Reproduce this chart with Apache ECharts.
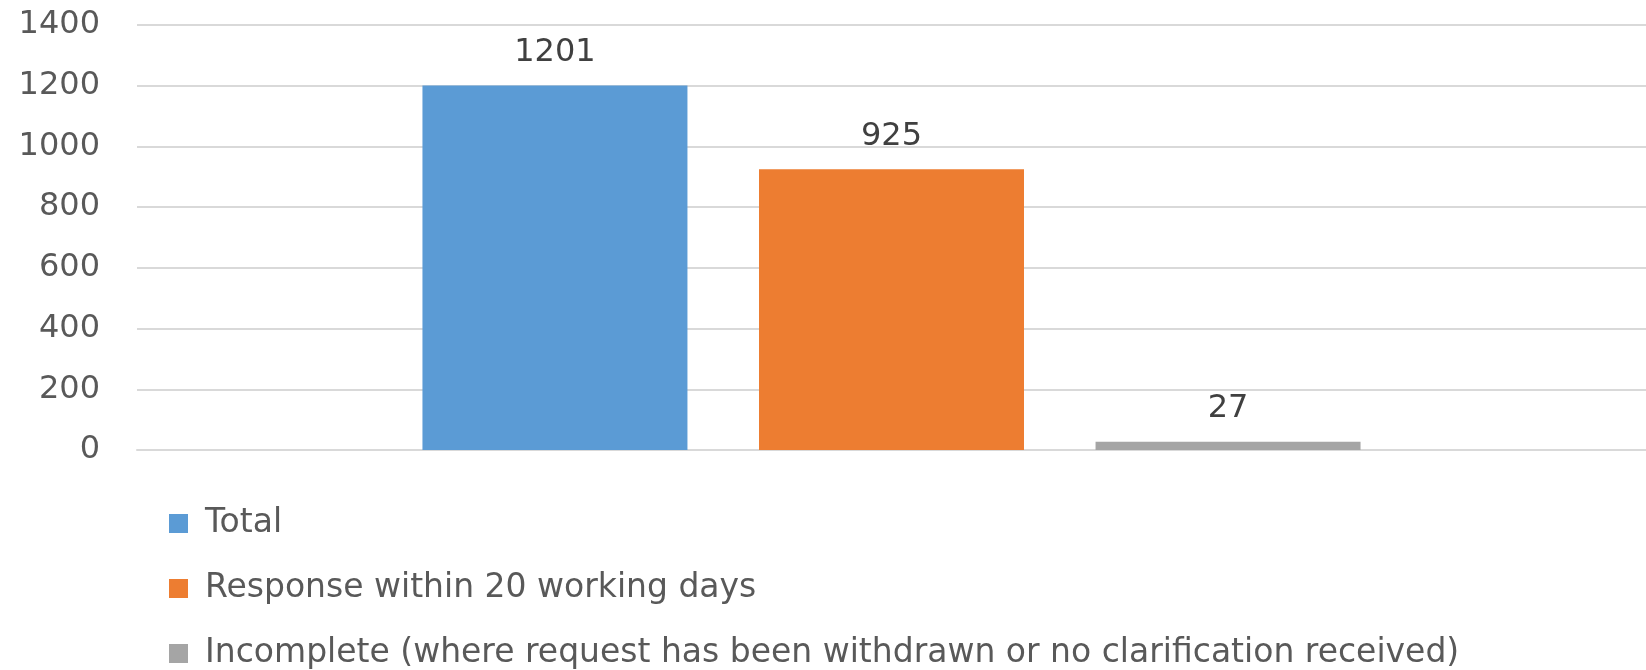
<!DOCTYPE html>
<html>
<head>
<meta charset="utf-8">
<title>Requests</title>
<script src="https://cdn.jsdelivr.net/npm/echarts@6/dist/echarts.min.js"></script>
<style>
  html, body { margin: 0; padding: 0; background: #ffffff; }
  #chart { width: 1646px; height: 670px; }
</style>
</head>
<body>
<div id="chart"></div>
<script>
// data
const categories = [""]
const seriesNames = [
  "Total",
  "Response within 20 working days",
  "Incomplete (where request has been withdrawn or no clarification received)"
]
const totalValues = [1201]
const responseValues = [925]
const incompleteValues = [27]
const yTicks = [0, 200, 400, 600, 800, 1000, 1200, 1400]

const colors = ["#5B9BD5", "#ED7D31", "#A5A5A5"]
const seriesValues = [totalValues, responseValues, incompleteValues]

const chart = echarts.init(document.getElementById("chart"))

chart.setOption({
  animation: false,
  color: colors,
  textStyle: { fontFamily: "DejaVu Sans" },
  grid: {
    left: 137,
    right: 0,
    top: 25,
    bottom: 220
  },
  legend: {
    orient: "vertical",
    left: 169,
    top: 507,
    height: 230,
    padding: 0,
    icon: "rect",
    itemWidth: 19,
    itemHeight: 19,
    itemGap: 32,
    data: seriesNames,
    textStyle: {
      fontSize: 33,
      color: "#595959",
      fontFamily: "DejaVu Sans",
      padding: [0, 0, 0, 12]
    }
  },
  xAxis: {
    type: "category",
    data: categories,
    axisTick: { show: false },
    axisLabel: { show: false },
    axisLine: { lineStyle: { color: "#d9d9d9", width: 2 } }
  },
  yAxis: {
    type: "value",
    min: yTicks[0],
    max: yTicks[yTicks.length - 1],
    interval: 200,
    axisLine: { show: false },
    axisTick: { show: false },
    axisLabel: {
      margin: 37,
      fontSize: 32,
      color: "#595959",
      fontFamily: "DejaVu Sans",
      formatter: (v) => String(v)
    },
    splitLine: { lineStyle: { color: "#d9d9d9", width: 2 } }
  },
  series: seriesNames.map((name, i) => ({
    name: name,
    type: "bar",
    barWidth: 265,
    barGap: "27%",
    data: seriesValues[i],
    label: {
      show: true,
      position: "top",
      distance: 17,
      fontSize: 32,
      color: "#404040",
      fontFamily: "DejaVu Sans"
    }
  }))
})
</script>
</body>
</html>
